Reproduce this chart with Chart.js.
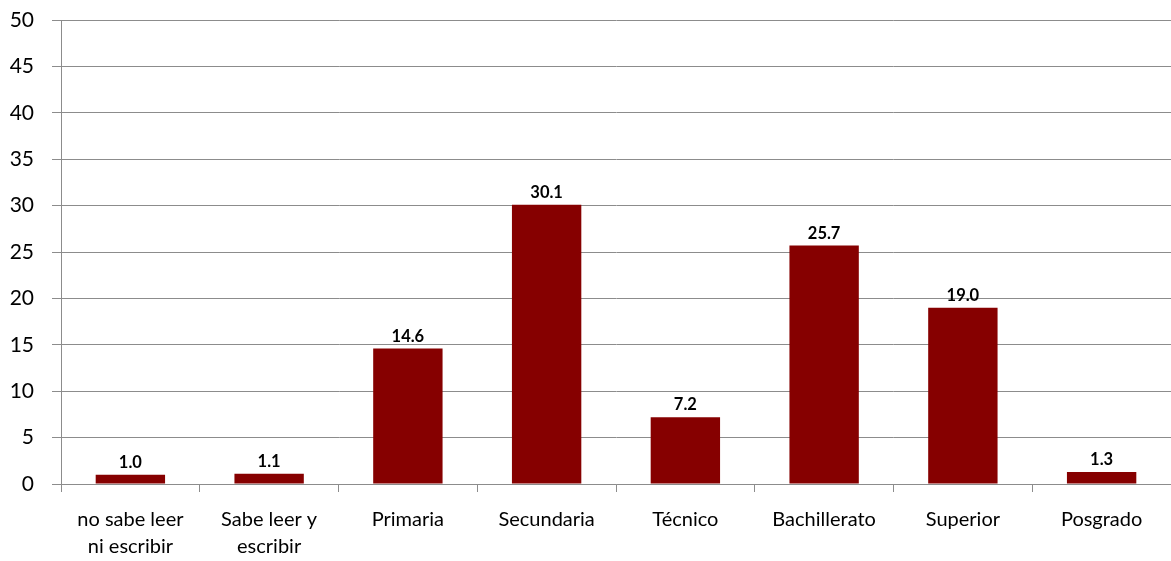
<!DOCTYPE html>
<html>
<head>
<meta charset="utf-8">
<script src="https://cdn.jsdelivr.net/npm/chart.js@4/dist/chart.umd.min.js"></script>
<style>
  html, body { margin: 0; padding: 0; background: #fff; }
  #wrap { width: 1171px; height: 561px; }
</style>
</head>
<body>
<div id="wrap"><canvas id="chart"></canvas></div>
<script>
const categories = [
  ['no sabe leer', 'ni escribir'],
  ['Sabe leer y', 'escribir'],
  'Primaria',
  'Secundaria',
  'Técnico',
  'Bachillerato',
  'Superior',
  'Posgrado'
];
const values = [1.0, 1.1, 14.6, 30.1, 7.2, 25.7, 19.0, 1.3];
const yTicks = [0, 5, 10, 15, 20, 25, 30, 35, 40, 45, 50];

const fontFamily = 'Lato, "Open Sans", sans-serif';

// value labels above each bar
const barLabels = {
  id: 'barLabels',
  afterDatasetsDraw(chart) {
    const ctx = chart.ctx;
    const meta = chart.getDatasetMeta(0);
    ctx.save();
    ctx.font = 'bold 16.5px ' + fontFamily;
    ctx.fillStyle = '#000';
    ctx.textAlign = 'center';
    ctx.textBaseline = 'bottom';
    meta.data.forEach((bar, i) => {
      ctx.fillText(values[i].toFixed(1), bar.x, bar.y - 4);
    });
    ctx.restore();
  }
};

new Chart(document.getElementById('chart'), {
  type: 'bar',
  data: {
    labels: categories,
    datasets: [{
      data: values,
      backgroundColor: '#860000',
      barPercentage: 0.5,
      categoryPercentage: 1
    }]
  },
  options: {
    responsive: true,
    maintainAspectRatio: false,
    animation: false,
    layout: { padding: { top: 20, right: 0, left: 0, bottom: 0 } },
    plugins: { legend: { display: false }, tooltip: { enabled: false } },
    scales: {
      x: {
        offset: true,
        grid: {
          offset: true,
          drawOnChartArea: false,
          color: '#8c8c8c',
          tickLength: 8,
          tickColor: '#8c8c8c'
        },
        border: { color: '#8c8c8c', width: 1 },
        ticks: {
          color: '#000',
          font: { family: fontFamily, size: 20, lineHeight: 1.35 },
          padding: 14,
          maxRotation: 0,
          autoSkip: false
        },
        afterFit(scale) {
          scale.height = 77;
          scale.paddingLeft = 0;
          scale.paddingRight = 0;
        }
      },
      y: {
        min: 0,
        max: 50,
        afterBuildTicks(scale) { scale.ticks = yTicks.map((v) => ({ value: v })); },
        grid: {
          color: '#8c8c8c',
          tickLength: 9,
          tickColor: '#8c8c8c'
        },
        border: { color: '#8c8c8c', width: 1 },
        ticks: {
          color: '#000',
          font: { family: fontFamily, size: 21 },
          padding: 18
        },
        afterFit(scale) {
          scale.width = 61;
          scale.paddingTop = 0;
          scale.paddingBottom = 0;
        }
      }
    }
  },
  plugins: [barLabels]
});
</script>
</body>
</html>
